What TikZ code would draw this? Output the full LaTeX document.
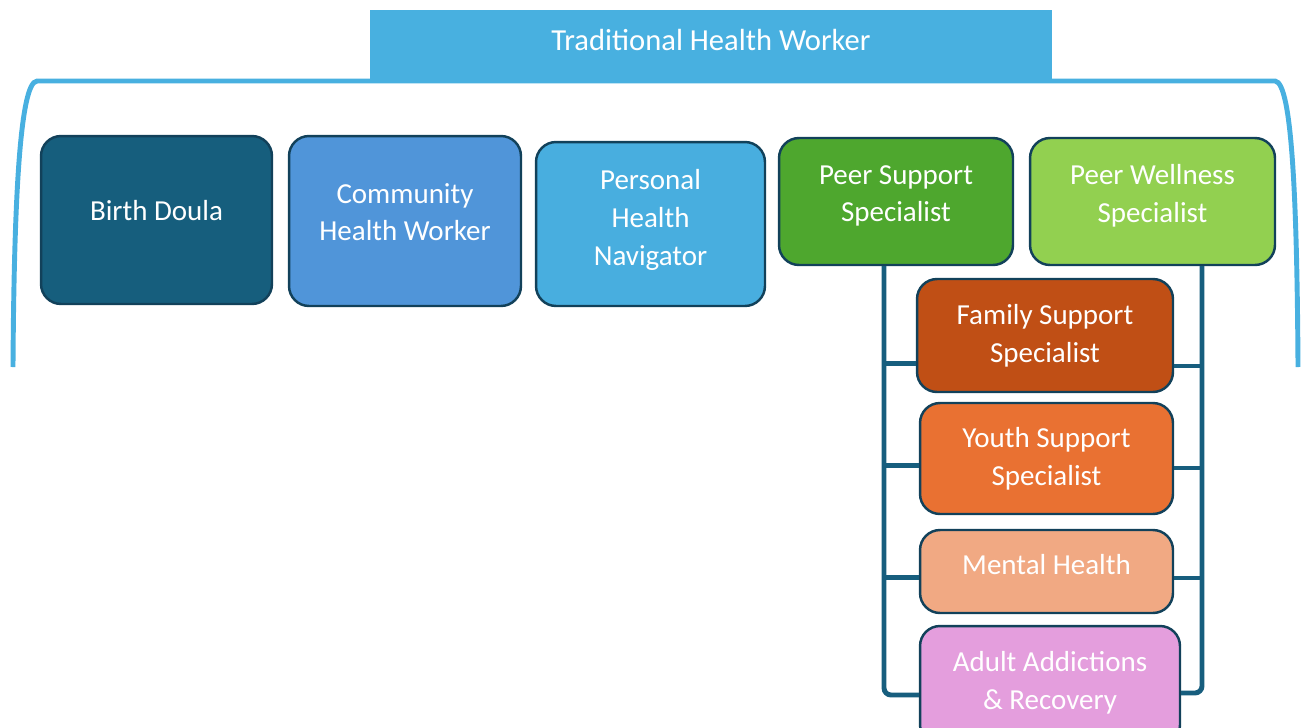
\documentclass[tikz,border=0pt]{standalone}
\usepackage{fontspec}
\setmainfont{Carlito}
\definecolor{SkyBar}{HTML}{48B0E0}
\definecolor{EdgeNavy}{HTML}{12415A}
\definecolor{RailTeal}{HTML}{175E7E}
\definecolor{DoulaBlue}{HTML}{165E7D}
\definecolor{ChwBlue}{HTML}{5095D9}
\definecolor{NavBlue}{HTML}{48AEDF}
\definecolor{PeerGreen}{HTML}{4EA72E}
\definecolor{WellGreen}{HTML}{92D050}
\definecolor{FamilyRust}{HTML}{C04F15}
\definecolor{YouthOrange}{HTML}{E97132}
\definecolor{MentalPeach}{HTML}{F1A983}
\definecolor{AddictPink}{HTML}{E49EDD}
\usetikzlibrary{calc}

\begin{document}
\begin{tikzpicture}[
        x=0.02cm, y=-0.02cm,
        role/.style={draw=EdgeNavy, line width=1.4pt, rectangle, rounded corners=0.4cm, align=center, text=white, inner sep=2pt, font=\fontsize{16.5}{21.5}\selectfont},
        banner/.style={fill=SkyBar, rectangle, text=white, font=\fontsize{17.4}{21.5}\selectfont},
        bracket/.style={draw=SkyBar, line width=2.8pt},
        link/.style={draw=RailTeal, line width=2.8pt}
      ]
        \useasboundingbox (0,0) rectangle (1301,727);

        % heading bar and the bracket under it
        \node (thw) [banner, minimum width=13.64cm, minimum height=1.40cm, text depth=0.2cm] at (711,45) {Traditional Health Worker};
        \coordinate (bl) at (13,367);
        \coordinate (br) at (1298,367);
        \draw [bracket] (bl) .. controls (14,200) and (20,82) .. (37,81) -- (1275,81) .. controls (1292,82) and (1297,200) .. (br);

        % first row of roles (text depth lifts the label a little)
        \node (bd) [role, fill=DoulaBlue, minimum width=4.62cm, minimum height=3.36cm, text depth=0.4cm] at (156.5,220) {Birth Doula};
        \node (chw) [role, fill=ChwBlue, minimum width=4.64cm, minimum height=3.40cm, text depth=0.36cm] at (405,221) {Community\\Health Worker};
        \node (phn) [role, fill=NavBlue, minimum width=4.58cm, minimum height=3.28cm, text depth=0.26cm] at (650.5,224) {Personal\\Health\\Navigator};
        \node (pss) [role, fill=PeerGreen, minimum width=4.68cm, minimum height=2.54cm, text depth=0.32cm] at (896,201.5) {Peer Support\\Specialist};
        \node (pws) [role, fill=WellGreen, minimum width=4.90cm, minimum height=2.54cm, text depth=0.32cm] at (1152.5,201.5) {Peer Wellness\\Specialist};

        % peer specialties
        \node (fss) [role, fill=FamilyRust, minimum width=5.12cm, minimum height=2.26cm] at (1045,335.5) {Family Support\\Specialist};
        \node (yss) [role, fill=YouthOrange, minimum width=5.06cm, minimum height=2.22cm] at (1046.5,458.5) {Youth Support\\Specialist};
        \node (mh) [role, fill=MentalPeach, minimum width=5.06cm, minimum height=1.66cm, text depth=0.28cm] at (1046.5,571.5) {Mental Health};
        \node (aar) [role, fill=AddictPink, minimum width=5.20cm, minimum height=2.38cm, text depth=0.2cm] at (1050,685.5) {Adult Addictions\\\& Recovery};

        % rails down both sides
        \coordinate (railL) at (884,0);
        \coordinate (railR) at (1202,0);
        \draw [link] (pss.south -| railL) |- ($(fss.west)+(0,28)$);
        \draw [link] (pss.south -| railL) |- ($(yss.west)+(0,7)$);
        \draw [link] (pss.south -| railL) |- ($(mh.west)+(0,6)$);
        \draw [link, rounded corners=4pt] (pss.south -| railL) |- ($(aar.west)+(0,9.5)$);
        \draw [link] (pws.south -| railR) |- ($(fss.east)+(0,30.5)$);
        \draw [link] (pws.south -| railR) |- ($(yss.east)+(0,9.5)$);
        \draw [link] (pws.south -| railR) |- ($(mh.east)+(0,6.5)$);
        \draw [link, rounded corners=4pt] (pws.south -| railR) |- ($(aar.east)+(0,7.5)$);
      \end{tikzpicture}
\end{document}
